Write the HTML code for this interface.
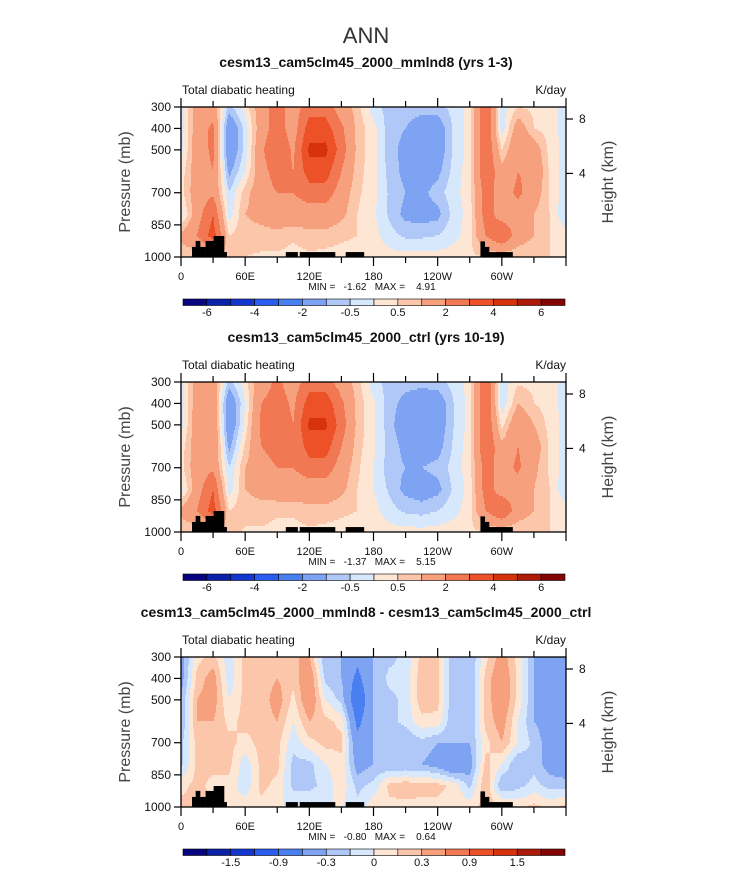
<!DOCTYPE html>
<html><head><meta charset="utf-8">
<style>
html,body{margin:0;padding:0;background:#fff;}
svg{display:block;font-family:"Liberation Sans",sans-serif;}
</style></head>
<body>
<svg id="fig" width="733" height="872" xmlns="http://www.w3.org/2000/svg">
<text x="366" y="43" text-anchor="middle" font-size="22" fill="#333">ANN</text>
</svg>
<script>
// ---- data ----
const lons = [0,15,30,45,60,75,90,105,120,135,150,165,180,195,210,225,240,255,270,285,300,315,330,345,360];
const pressures = [300,400,500,600,700,800,900,1000];
const heatMmlnd8 = [
 [-0.3,1.5,1.5,-0.7,0.2,1.5,2.5,1.5,2.5,2.5,1.5,0.7,-0.3,-0.7,-0.7,-0.7,-0.7,-0.3,0.2,3.0,-0.3,0.5,0.4,0.3,-0.3],
 [-0.3,1.5,2.2,-1.8,-0.3,1.5,2.5,1.5,3.5,3.5,2.2,0.8,0.2,-0.8,-1,-1.5,-1.5,-0.4,0.2,3.0,-0.3,1.5,0.5,0.3,-0.3],
 [-0.2,1.5,2.2,-1.8,-0.3,1.8,3.0,1.8,4.2,4.3,2.5,0.8,0.2,-0.8,-1.2,-1.5,-1.5,-0.4,0.2,3.0,0.5,1.8,1.5,0.3,-0.2],
 [0.2,1.5,2.0,-1.2,0.0,1.6,2.5,2.0,3.5,3.5,2.0,0.7,0.2,-0.7,-1.2,-1.5,-1.2,-0.3,0.3,3.0,1.2,2.0,1.8,0.4,-0.3],
 [0.3,1.5,1.8,-0.5,0.8,1.5,2.0,2.0,2.5,2.5,1.5,0.6,0.2,-0.6,-1.0,-1.2,-0.7,-0.2,0.3,2.5,1.5,2.2,1.5,0.4,-0.3],
 [-0.2,1.5,3.0,-0.3,1.0,1.2,1.5,1.5,1.5,1.5,1.2,0.5,0.1,-0.6,-1.2,-1.3,-1.2,-0.3,0.2,2.5,1.5,1.5,1.0,0.5,-0.5],
 [1.2,2.0,3.5,0.5,0.8,0.8,0.8,0.6,0.8,0.8,0.6,0.5,0.2,-0.3,-0.6,-0.6,-0.5,-0.2,0.3,2.0,3.0,1.5,1.0,0.5,0.2],
 [0.5,0.5,0.8,0.8,0.5,0.4,0.4,0.3,0.4,0.3,0.3,0.3,0.3,0.2,0.2,0.2,0.2,0.3,0.4,0.5,0.5,0.5,0.5,0.5,0.5]];
const heatCtrl = [
 [-0.3,1.5,1.5,-0.7,0.3,1.5,2.2,1.5,2.5,2.5,1.5,0.7,-0.3,-0.7,-0.8,-0.8,-0.7,-0.3,0.2,3.0,-0.3,0.4,0.4,0.3,-0.3],
 [-0.3,1.5,1.8,-1.8,0.0,2.0,2.5,1.8,3.5,3.6,2.2,0.8,0.1,-0.8,-1.2,-1.5,-1.5,-0.5,0.2,3.0,-0.4,1.0,0.5,0.3,-0.3],
 [-0.2,1.5,2.0,-1.8,0.2,2.2,2.8,2.0,4.2,4.2,2.5,0.8,0.1,-0.8,-1.5,-1.6,-1.5,-0.5,0.2,3.0,0.3,1.8,1.0,0.3,-0.2],
 [0.2,1.5,2.0,-1.2,0.6,2.0,2.5,2.0,3.5,3.5,2.0,0.7,0.1,-0.7,-1.2,-1.5,-1.3,-0.4,0.3,3.0,1.2,2.0,1.5,0.4,-0.3],
 [0.3,1.5,1.8,-0.5,1.0,1.5,2.0,2.0,2.5,2.5,1.5,0.6,0.0,-0.8,-1.0,-1.0,-0.8,-0.3,0.3,2.5,1.5,2.2,1.2,0.4,-0.3],
 [-0.2,1.5,3.0,-0.3,1.0,1.2,1.5,1.5,1.5,1.5,1.2,0.5,0.0,-0.6,-1.2,-1.4,-1.2,-0.4,0.2,2.5,1.5,1.5,1.0,0.5,-0.5],
 [1.2,2.0,3.5,0.5,0.8,0.8,0.6,0.6,0.8,0.8,0.6,0.5,0.2,-0.3,-0.6,-0.7,-0.5,-0.2,0.3,2.0,3.0,1.5,1.0,0.5,0.2],
 [0.5,0.5,0.8,0.8,0.4,0.4,0.3,0.3,0.4,0.3,0.3,0.3,0.3,0.2,0.2,0.2,0.2,0.3,0.4,0.5,0.5,0.5,0.5,0.5,0.5]];
const heatDiff = [
 [-0.4,0.1,0.2,-0.1,0.2,0.2,0.2,0.3,0.3,-0.3,-0.3,-0.5,-0.3,-0.2,-0.1,0.2,0.2,-0.3,-0.3,0.1,0.4,0.1,-0.3,-0.4,-0.4],
 [-0.4,0.2,0.4,-0.1,0.2,0.2,0.3,0.2,0.5,-0.2,-0.3,-0.7,-0.3,-0.1,-0.1,0.25,0.2,-0.3,-0.3,0.2,0.5,0.1,-0.3,-0.4,-0.4],
 [-0.3,0.3,0.4,0.0,0.2,0.2,0.4,0.1,0.5,0.0,-0.2,-0.9,-0.3,-0.2,-0.1,0.25,0.2,-0.3,-0.3,0.2,0.5,0.1,-0.3,-0.4,-0.4],
 [-0.3,0.3,0.3,0.1,0.2,0.2,0.3,0.0,0.3,0.2,0.1,-0.7,-0.3,-0.2,-0.1,0.1,0.1,-0.3,-0.3,0.2,0.4,0.0,-0.3,-0.4,-0.4],
 [-0.2,0.2,0.3,0.2,0.1,0.2,0.2,-0.1,0.1,0.2,0.2,-0.5,-0.3,-0.3,-0.3,-0.2,-0.3,-0.3,-0.3,0.1,0.3,0.0,-0.2,-0.4,-0.5],
 [-0.2,0.2,0.2,0.2,-0.1,0.2,0.2,-0.2,-0.2,0.0,0.1,-0.4,-0.3,-0.3,-0.3,-0.3,-0.4,-0.6,-0.4,0.2,0.0,-0.3,-0.2,-0.4,-0.5],
 [0.1,0.2,0.1,0.1,-0.1,0.2,0.1,-0.2,-0.2,-0.1,0.1,-0.2,-0.1,0.2,0.25,0.2,0.2,0.1,-0.2,0.3,-0.3,-0.2,-0.1,-0.2,-0.2],
 [0.2,0.2,0.2,0.0,0.1,0.1,0.0,0.0,0.0,0.0,0.0,-0.1,0.1,0.1,0.1,0.1,0.1,0.1,0.1,0.2,0.2,0.1,0.2,0.1,0.2]];
const levelsFull = [-6,-5,-4,-3,-2,-1,-0.5,0,0.5,1,2,3,4,5,6];
const levelsDiff = [-1.8,-1.5,-1.2,-0.9,-0.6,-0.3,-0.15,0,0.15,0.3,0.6,0.9,1.2,1.5,1.8];
const cbarLabelsFull = ["-6","","-4","","-2","","-0.5","","0.5","","2","","4","","6"];
const cbarLabelsDiff = ["","-1.5","","-0.9","","-0.3","","0","","0.3","","0.9","","1.5",""];
const topoLonStart = [10.3,13.7,17.8,23,30.5,40.2,98,111,154,280,284,288];
const topoLonEnd   = [13.7,17.8,23,30.5,40.2,42.7,109,144,171,284,288,310];
const topoTopP     = [953,925,953,925,902,977,977,977,977,927,953,977];
const xTickLons = [0,30,60,90,120,150,180,210,240,270,300,330,360];
const xTickLabels = ["0","","60E","","120E","","180","","120W","","60W","",""];
const pTicks = [300,400,500,700,850,1000];
const hTicks = [8,4];
const hTickP = [356,610];
const panelTitles = ["cesm13_cam5clm45_2000_mmlnd8 (yrs 1-3)","cesm13_cam5clm45_2000_ctrl (yrs 10-19)","cesm13_cam5clm45_2000_mmlnd8 - cesm13_cam5clm45_2000_ctrl"];
const minMax = [["-1.62","4.91"],["-1.37","5.15"],["-0.80","0.64"]];
const colors = ["#06057f","#0a22a8","#1437d0","#2a5cf0","#4a7ff2","#7ea3f3","#b0c8f8","#d8e8fc","#fde6d3","#fbc6aa","#f7a07e","#f27853","#ec5127","#d6320c","#ae1a08","#820404"];

const NS = "http://www.w3.org/2000/svg";
const svg = document.getElementById('fig');
function el(tag, attrs, parent){const e=document.createElementNS(NS,tag);for(const k in attrs)e.setAttribute(k,attrs[k]);(parent||svg).appendChild(e);return e;}
function txt(x,y,s,size,anchor,parent,extra){const t=el('text',Object.assign({x:x,y:y,'font-size':size,'text-anchor':anchor||'middle',fill:'#111'},extra||{}),parent);t.textContent=s;return t;}

const X0=181, X1=566, H=150;
function xs(lon){return X0+(lon/360)*(X1-X0);}
function ysFn(top){return p=>top+(p-300)/700*H;}
function interp(grid,lon,p){
  let i=Math.min(lons.length-2,Math.floor(lon/15)); let fx=(lon-lons[i])/15;
  let j=0; while(j<pressures.length-2 && p>pressures[j+1]) j++;
  let fy=(p-pressures[j])/(pressures[j+1]-pressures[j]); fy=Math.max(0,Math.min(1,fy));
  const a=grid[j][i]*(1-fx)+grid[j][i+1]*fx, b=grid[j+1][i]*(1-fx)+grid[j+1][i+1]*fx;
  return a*(1-fy)+b*fy;
}
function bin(v,levels){v=Math.round(v*1e6)/1e6+1e-7;let k=0;while(k<levels.length&&v>=levels[k])k++;return k;}

function panel(idx, grid, levels, labels){
  const off=idx*275, top=107+off, ys=ysFn(top);
  const g=el('g',{},svg);
  
  
  const tt=txt(366,67+off,panelTitles[idx],14,'middle',g,{'font-weight':'bold'});
  
  const st=txt(182,94+off,'Total diabatic heating',12,'start',g);
  
  const ut=txt(566,94+off,'K/day',12,'end',g);
  
  const fg=el('g',{},g);
  
  const dy=2, W=X1-X0;
  for(let yy=0; yy<H; yy+=dy){
    const p=300+(yy+dy/2)/H*700;
    let runStart=0, runBin=-1;
    for(let xx=0; xx<=W; xx++){
      const b= xx<W ? bin(interp(grid,(xx+0.5)/W*360,p),levels) : -2;
      if(b!==runBin){
        if(runBin>=0){const r=el('rect',{x:X0+runStart,y:top+yy,width:xx-runStart+0.4,height:dy+0.4,fill:colors[runBin]},fg);
          }
        runStart=xx; runBin=b;
      }
    }
  }
  for(let k=0;k<topoLonStart.length;k++){
    const r=el('rect',{x:xs(topoLonStart[k]),y:ys(topoTopP[k]),width:xs(topoLonEnd[k])-xs(topoLonStart[k])+0.3,height:top+H-ys(topoTopP[k]),fill:'#000'},g);
    
  }
  const fr=el('rect',{x:X0,y:top,width:X1-X0,height:H,fill:'none',stroke:'#000','stroke-width':1.3},g);
  
  xTickLons.forEach((l,i)=>{
    const x=xs(l), len=(l%60===0)?9:6;
    el('line',{x1:x,x2:x,y1:top+H,y2:top+H+len,stroke:'#000','stroke-width':1.2},g);
    el('line',{x1:x,x2:x,y1:top,y2:top-len,stroke:'#000','stroke-width':1.2},g);
    if(xTickLabels[i]){const t=txt(x,top+H+23,xTickLabels[i],11,'middle',g);
      }
  });
  pTicks.forEach(p=>{
    const y=ys(p);
    el('line',{x1:X0,x2:X0-7,y1:y,y2:y,stroke:'#000','stroke-width':1.2},g);
    const t=txt(X0-10,y+4,String(p),12,'end',g);
    
  });
  hTicks.forEach((h,i)=>{
    const y=ys(hTickP[i]);
    el('line',{x1:X1,x2:X1+7,y1:y,y2:y,stroke:'#000','stroke-width':1.2},g);
    const t=txt(X1+13,y+4,String(h),12,'start',g);
    
  });
  const yl=txt(0,0,'Pressure (mb)',16,'middle',g,{transform:`translate(130,${top+H/2}) rotate(-90)`,fill:'#444'});
  
  const hl=txt(0,0,'Height (km)',16,'middle',g,{transform:`translate(613,${top+H/2}) rotate(-90)`,fill:'#444'});
  
  const sp='\u00a0';
  const mm=txt(372,top+183,'MIN ='+sp+sp+sp+minMax[idx][0]+sp+sp+sp+'MAX ='+sp+sp+sp+sp+minMax[idx][1],10,'middle',g);
  
  const cb=el('g',{},g);
  
  const cx0=183,cw=(565-183)/16, cy=299+off;
  colors.forEach((c,i)=>{
    const r=el('rect',{x:cx0+i*cw,y:cy,width:cw,height:6.5,fill:c,stroke:'#000','stroke-width':0.6},cb);
    
  });
  labels.forEach((s,i)=>{ if(!s) return;
    const t=txt(cx0+(i+1)*cw,cy+17,s,11,'middle',cb);
    
  });
}
panel(0,heatMmlnd8,levelsFull,cbarLabelsFull);
panel(1,heatCtrl,levelsFull,cbarLabelsFull);
panel(2,heatDiff,levelsDiff,cbarLabelsDiff);
</script>
</body></html>
